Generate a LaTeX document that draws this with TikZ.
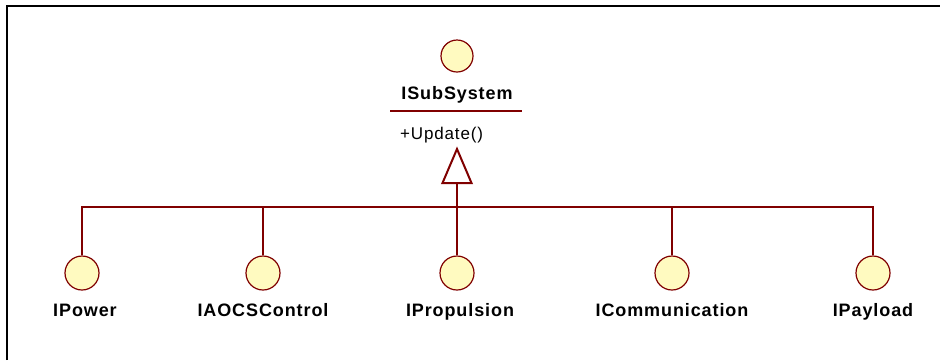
\documentclass[tikz,border=0pt]{standalone}
\usepackage{fontspec}
\setmainfont{Liberation Sans}
\newfontfamily\umlfont[LetterSpace=5]{Liberation Sans}
\newfontfamily\umlopfont[LetterSpace=5]{Liberation Sans}
\begin{document}
\begin{tikzpicture}[x=1pt,y=-1pt,
  iface/.style={circle,draw=umlline,fill=umlfill,line width=1.2pt,minimum size=#1,inner sep=0pt},
  iface/.default=32pt,
  ifname/.style={font=\umlfont\fontsize{18}{20}\selectfont\bfseries,inner sep=0pt,anchor=base},
  opname/.style={font=\umlopfont\fontsize{17}{19}\selectfont,inner sep=0pt,anchor=base west},
  link/.style={draw=umlline,line width=1.3pt},
]
\definecolor{umlline}{RGB}{128,0,0}
\definecolor{umlfill}{RGB}{255,250,192}
\useasboundingbox (0,0) rectangle (940,360);
\fill[white] (0,0) rectangle (940,360);
% outer frame (only top and left edges fall inside the page)
\draw[line width=2pt] (7,360) -- (7,6) -- (940,6);

% parent interface with its compartment
\node[iface=32pt] (sub) at (457,56) {};
\node[ifname] (subname) at (457,99.5) {ISubSystem};
\coordinate (sepL) at (390,111);
\coordinate (sepR) at (522,111);
\draw[link] (sepL) -- (sepR);
\node[opname] (op) at (400,139.5) {+Update()};

% generalization arrowhead and its stem
\coordinate (apex) at (457,149);
\coordinate (baseL) at (442.5,183);
\coordinate (baseR) at (471.5,183);
\coordinate (hub) at (457,207);
\draw[draw=umlline,fill=white,line width=2pt,line join=miter] (apex) -- (baseL) -- (baseR) -- cycle;
\draw[draw=umlline,line width=2.2pt] (457,183) -- (hub);

% child interfaces
\node[iface=34pt] (pw) at (82,273) {};
\node[iface=34pt] (ac) at (263,273) {};
\node[iface=34pt] (pr) at (457,273) {};
\node[iface=34pt] (cm) at (672,273) {};
\node[iface=34pt] (pl) at (873,273) {};

\node[ifname] at (85,316) {IPower};
\node[ifname] at (263,316) {IAOCSControl};
\node[ifname] at (460,316) {IPropulsion};
\node[ifname] at (672,316) {ICommunication};
\node[ifname] at (873,316) {IPayload};

% tree connectors into the shared bus
\draw[link] (pw.north) |- (hub);
\draw[link] (ac.north) |- (hub);
\draw[link] (pr.north) -- (hub);
\draw[link] (cm.north) |- (hub);
\draw[link] (pl.north) |- (hub);
\end{tikzpicture}
\end{document}
